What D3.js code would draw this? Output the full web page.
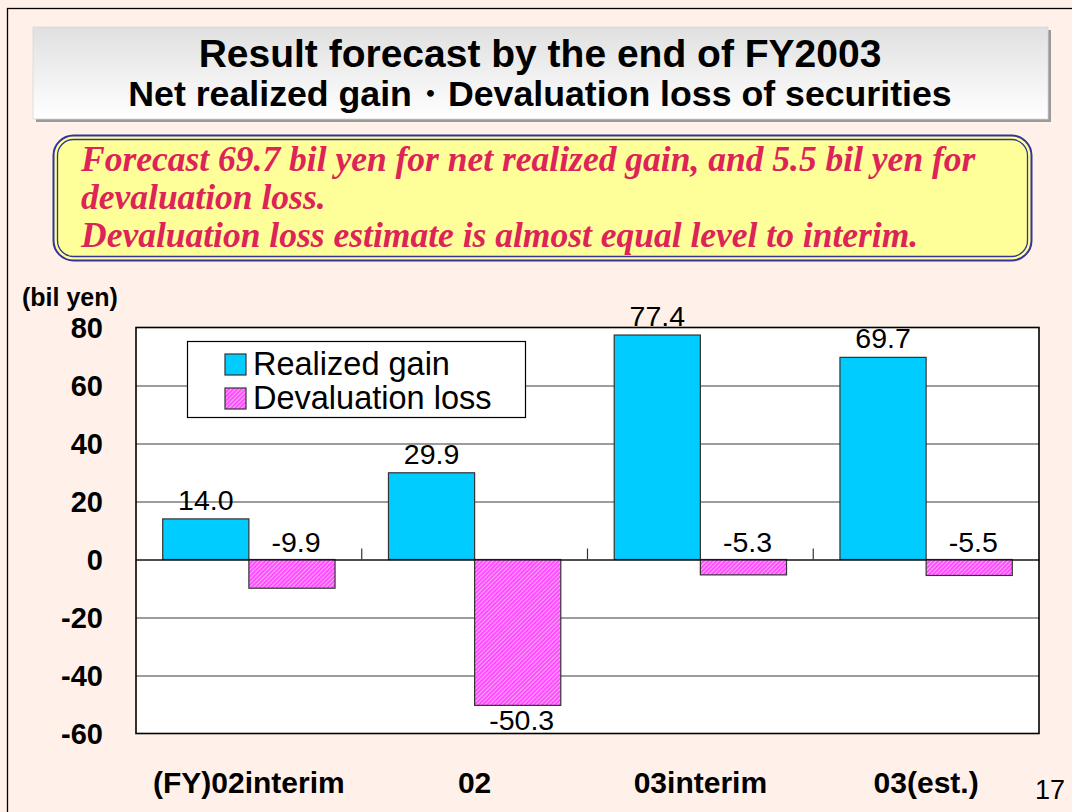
<!DOCTYPE html>
<html>
<head>
<meta charset="utf-8">
<script src="https://cdn.jsdelivr.net/npm/d3@7"></script>
<style>
  html, body { margin: 0; padding: 0; background: #FFF1E9; }
  svg { display: block; }
</style>
</head>
<body>
<svg id="chart" width="1072" height="812"></svg>
<script>
// ---- data ----
const titleLines = ["Result forecast by the end of FY2003", "Net realized gain・Devaluation loss of securities"];
const noteLines = [
  "Forecast 69.7 bil yen for net realized gain, and 5.5 bil yen for",
  "devaluation loss.",
  "Devaluation loss estimate is almost equal level to interim."
];
const categories = ["(FY)02interim", "02", "03interim", "03(est.)"];
const seriesNames = ["Realized gain", "Devaluation loss"];
const realizedGain = [14.0, 29.9, 77.4, 69.7];
const devaluationLoss = [-9.9, -50.3, -5.3, -5.5];
const yTicks = [80, 60, 40, 20, 0, -20, -40, -60];
const unitLabel = "(bil yen)";
const pageNumber = "17";

// ---- setup ----
const svg = d3.select("#chart");
const SANS = "'Liberation Sans', Arial, sans-serif";
const SERIF = "'Liberation Serif', 'Times New Roman', serif";
const BLUE = "#00CCFF";
const fmt1 = v => v.toFixed(1);          // hyphen-minus like the original
const fmt0 = v => String(v);

const defs = svg.append("defs");
const grad = defs.append("linearGradient").attr("id", "titleGrad")
  .attr("x1", 0).attr("y1", 0).attr("x2", 0).attr("y2", 1);
grad.append("stop").attr("offset", "0%").attr("stop-color", "#E0E0E0");
grad.append("stop").attr("offset", "100%").attr("stop-color", "#FFFFFF");

const pat = defs.append("pattern").attr("id", "hatch")
  .attr("patternUnits", "userSpaceOnUse").attr("width", 3).attr("height", 3)
  .attr("patternTransform", "rotate(45)");
pat.append("rect").attr("width", 3).attr("height", 3).attr("fill", "#FF4DFF");
pat.append("rect").attr("x", 0).attr("width", 1).attr("height", 3).attr("fill", "#FFA6FF");

// page frame (left & top)
svg.append("rect").attr("x", 7.5).attr("y", 8.5).attr("width", 1200).attr("height", 1000)
  .attr("fill", "#FFF1E9").attr("stroke", "#000").attr("stroke-width", 1.3);

// title box
svg.append("rect").attr("x", 36).attr("y", 30).attr("width", 1015).attr("height", 92)
  .attr("fill", "#9A9A9A");
svg.append("rect").attr("x", 33).attr("y", 27).attr("width", 1015).attr("height", 92)
  .attr("fill", "url(#titleGrad)").attr("stroke", "#D8D8D8").attr("stroke-width", 0.8);
svg.append("text").attr("x", 540).attr("y", 67).attr("text-anchor", "middle")
  .attr("font-family", SANS).attr("font-weight", "bold").attr("font-size", 39)
  .attr("fill", "#000").text(titleLines[0]);
svg.append("text").attr("x", 540).attr("y", 106).attr("text-anchor", "middle")
  .attr("font-family", SANS).attr("font-weight", "bold").attr("font-size", 35.7)
  .attr("fill", "#000").text(titleLines[1]);

// note box
svg.append("rect").attr("x", 53.5).attr("y", 135.5).attr("width", 978).attr("height", 125)
  .attr("rx", 20).attr("ry", 20).attr("fill", "#FFFF99")
  .attr("stroke", "#333399").attr("stroke-width", 2);
svg.append("rect").attr("x", 57.5).attr("y", 139.5).attr("width", 970).attr("height", 117)
  .attr("rx", 16).attr("ry", 16).attr("fill", "none")
  .attr("stroke", "#333399").attr("stroke-width", 1.3);
const noteY = [171, 209, 247];
noteLines.forEach((t, i) => {
  svg.append("text").attr("x", 81).attr("y", noteY[i])
    .attr("font-family", SERIF).attr("font-style", "italic").attr("font-weight", "bold")
    .attr("font-size", 35.5).attr("fill", "#DC2458").text(t);
});

// ---- chart ----
const plot = { left: 136, right: 1039, top: 327.5, bottom: 733.5 };
const x0 = d3.scaleBand().domain(categories).range([plot.left, plot.right]).padding(0);
const x1 = d3.scaleBand().domain(seriesNames).range([0, x0.bandwidth()])
  .paddingInner(0).paddingOuter(0.31);
const y = d3.scaleLinear().domain([-60, 80]).range([plot.bottom, plot.top]);

// plot background
svg.append("rect").attr("x", plot.left).attr("y", plot.top)
  .attr("width", plot.right - plot.left).attr("height", plot.bottom - plot.top)
  .attr("fill", "#FFFFFF");

// gridlines
const grid = d3.axisLeft(y).tickValues(yTicks.filter(v => v !== 80 && v !== -60))
  .tickSize(-(plot.right - plot.left)).tickFormat("");
svg.append("g").attr("transform", `translate(${plot.left},0)`).call(grid)
  .call(g => g.select(".domain").remove())
  .call(g => g.selectAll("line").attr("stroke", "#3A3A3A").attr("stroke-width", 1));

// bars
const rows = categories.map((c, i) => ({
  cat: c,
  vals: [
    { s: seriesNames[0], v: realizedGain[i] },
    { s: seriesNames[1], v: devaluationLoss[i] }
  ]
}));
const groups = svg.append("g").selectAll("g").data(rows).join("g")
  .attr("transform", d => `translate(${x0(d.cat)},0)`);
groups.selectAll("rect").data(d => d.vals).join("rect")
  .attr("x", d => x1(d.s))
  .attr("width", x1.bandwidth())
  .attr("y", d => y(Math.max(0, d.v)))
  .attr("height", d => Math.abs(y(d.v) - y(0)))
  .attr("fill", d => d.s === seriesNames[0] ? BLUE : "url(#hatch)")
  .attr("stroke", "#333").attr("stroke-width", 1.2);

// value labels
groups.selectAll("text.val").data(d => d.vals).join("text").attr("class", "val")
  .attr("x", d => x1(d.s) + x1.bandwidth() / 2 + (d.v < 0 ? 4 : 0))
  .attr("y", d => {
    if (d.v >= 0) return y(d.v) - 9;
    if (d.v > -20) return y(0) - 8;
    return y(d.v) + 25;
  })
  .attr("text-anchor", "middle")
  .attr("font-family", SANS).attr("font-size", 28.5).attr("fill", "#000")
  .text(d => fmt1(d.v));

// zero axis with category boundary ticks
const xAxis = d3.axisTop(x0).tickSize(0).tickFormat("");
svg.append("g").attr("transform", `translate(0,${y(0)})`).call(xAxis)
  .call(g => g.select(".domain").attr("stroke", "#000").attr("stroke-width", 1.2));
svg.append("g").selectAll("line").data(categories.slice(1)).join("line")
  .attr("x1", d => x0(d)).attr("x2", d => x0(d))
  .attr("y1", y(0)).attr("y2", y(0) - 11)
  .attr("stroke", "#333").attr("stroke-width", 1.2);

// plot frame
svg.append("rect").attr("x", plot.left).attr("y", plot.top)
  .attr("width", plot.right - plot.left).attr("height", plot.bottom - plot.top)
  .attr("fill", "none").attr("stroke", "#000").attr("stroke-width", 1.6);

// y-axis labels
const yAxis = d3.axisLeft(y).tickValues(yTicks).tickSize(0).tickPadding(0).tickFormat(fmt0);
svg.append("g").attr("transform", `translate(103,0)`).call(yAxis)
  .call(g => g.select(".domain").remove())
  .call(g => g.selectAll("text").attr("font-family", SANS).attr("font-weight", "bold")
    .attr("font-size", 29).attr("fill", "#000").attr("dy", "0.36em"));

svg.append("text").attr("x", 22).attr("y", 306)
  .attr("font-family", SANS).attr("font-weight", "bold").attr("font-size", 25)
  .attr("fill", "#000").text(unitLabel);

// category labels
const xLab = d3.axisBottom(x0).tickSize(0).tickPadding(0);
svg.append("g").attr("transform", `translate(0,771)`).call(xLab)
  .call(g => g.select(".domain").remove())
  .call(g => g.selectAll("text").attr("font-family", SANS).attr("font-weight", "bold")
    .attr("font-size", 30).attr("fill", "#000").attr("dy", "0.73em"));

// legend
const lg = svg.append("g");
lg.append("rect").attr("x", 187.5).attr("y", 341.5).attr("width", 338).attr("height", 76)
  .attr("fill", "#FFFFFF").attr("stroke", "#000").attr("stroke-width", 1.2);
seriesNames.forEach((s, i) => {
  const yy = 354 + i * 34;
  lg.append("rect").attr("x", 225).attr("y", yy).attr("width", 21).attr("height", 21)
    .attr("fill", i === 0 ? BLUE : "url(#hatch)").attr("stroke", "#333").attr("stroke-width", 1.2);
  lg.append("text").attr("x", 253).attr("y", yy + 21)
    .attr("font-family", SANS).attr("font-size", 32.5).attr("fill", "#000").text(s);
});

// page number
svg.append("text").attr("x", 1035).attr("y", 799)
  .attr("font-family", SANS).attr("font-size", 27).attr("fill", "#000").text(pageNumber);
</script>
</body>
</html>
